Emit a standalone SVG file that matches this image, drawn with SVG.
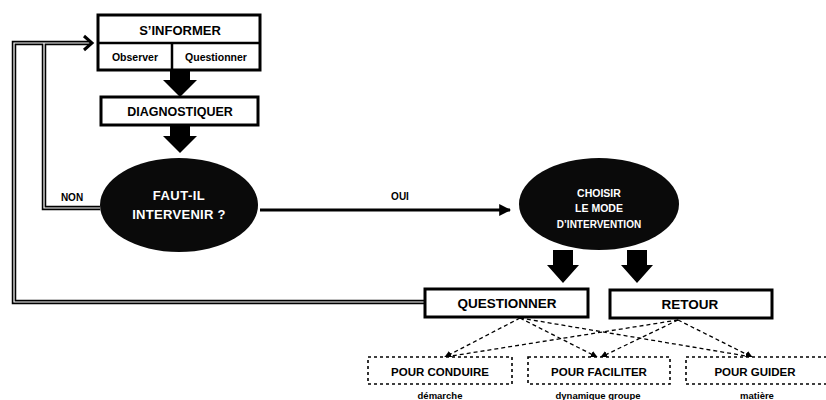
<svg xmlns="http://www.w3.org/2000/svg" xmlns:xlink="http://www.w3.org/1999/xlink" width="826" height="400" viewBox="0 0 826 400">
<style>
.box{fill:#fff;stroke:#000;stroke-width:3}
.dbox{fill:#fff;stroke:#000;stroke-width:1.6;stroke-dasharray:3 3}
.ell{fill:#0a0a0a}
.t{font-family:"Liberation Sans",Arial,sans-serif;font-weight:bold;text-anchor:middle;fill:#000}
.w{fill:#fff}
.fat{fill:#000}
.lineO{fill:none;stroke:#000;stroke-width:4.5}
.lineI{fill:none;stroke:#fff;stroke-width:1.2}
.solid{fill:none;stroke:#000;stroke-width:3}
.dash{fill:none;stroke:#000;stroke-width:1.3;stroke-dasharray:4 3}
</style>
<defs>
<marker id="tri" viewBox="0 0 10 10" refX="9" refY="5" markerWidth="4" markerHeight="4" orient="auto" markerUnits="strokeWidth">
<path d="M0,0 L10,5 L0,10 Z" fill="#000"/>
</marker>
<marker id="small" viewBox="0 0 10 10" refX="9" refY="5" markerWidth="7" markerHeight="7" orient="auto" markerUnits="userSpaceOnUse">
<path d="M0,0 L10,5 L0,10 Z" fill="#000"/>
</marker>
<path id="loop1" d="M425,302 H14 V43 H90"/>
<path id="loop2" d="M100,208 H44 V43"/>
</defs>

<g id="connectors">
<use xlink:href="#loop1" class="lineO"/>
<use xlink:href="#loop2" class="lineO"/>
<use xlink:href="#loop1" class="lineI"/>
<use xlink:href="#loop2" class="lineI"/>
<path d="M84,36 L92,43 L84,50" fill="none" stroke="#000" stroke-width="3"/>
<text class="t" x="72" y="201" font-size="10">NON</text>
<path class="solid" d="M260,210 H510" marker-end="url(#tri)"/>
<text class="t" x="400" y="200" font-size="10">OUI</text>
<path class="fat" d="M170,70 H190 V80 H197 L180,97 L163,80 H170 Z"/>
<path class="fat" d="M170,125 H190 V136 H197 L180,153 L163,136 H170 Z"/>
<path class="fat" d="M553,250 H573 V265 H579 L563,283 L547,265 H553 Z"/>
<path class="fat" d="M627,250 H647 V265 H653 L637,283 L621,265 H627 Z"/>
<path class="dash" d="M520,318 L445,357" marker-end="url(#small)"/>
<path class="dash" d="M520,318 L597,357" marker-end="url(#small)"/>
<path class="dash" d="M520,318 L752,357" marker-end="url(#small)"/>
<path class="dash" d="M678,320 L445,357" marker-end="url(#small)"/>
<path class="dash" d="M678,320 L601,357" marker-end="url(#small)"/>
<path class="dash" d="M678,320 L752,357" marker-end="url(#small)"/>
</g>

<g id="sinformer">
<rect class="box" x="98" y="15" width="162" height="55"/>
<line x1="98" y1="43" x2="260" y2="43" stroke="#000" stroke-width="2.5"/>
<line x1="172" y1="43" x2="172" y2="70" stroke="#000" stroke-width="2.5"/>
<text class="t" x="180" y="35" font-size="13">S’INFORMER</text>
<text class="t" x="135" y="61" font-size="10.5">Observer</text>
<text class="t" x="216" y="61" font-size="10.5">Questionner</text>
</g>

<g id="diagnostiquer">
<rect class="box" x="101" y="97" width="157" height="28"/>
<text class="t" x="180" y="116" font-size="12.5">DIAGNOSTIQUER</text>
</g>

<g id="fautil">
<ellipse class="ell" cx="179" cy="205" rx="79" ry="47"/>
<text class="t w" x="179" y="200" font-size="13" letter-spacing="0.5">FAUT-IL</text>
<text class="t w" x="179" y="219" font-size="13" letter-spacing="0.3">INTERVENIR ?</text>
</g>

<g id="choisir">
<ellipse class="ell" cx="599" cy="204" rx="80" ry="46"/>
<text class="t w" x="599" y="197" font-size="10.5">CHOISIR</text>
<text class="t w" x="599" y="212" font-size="10.5">LE MODE</text>
<text class="t w" x="599" y="228" font-size="10">D’INTERVENTION</text>
</g>

<g id="questionner">
<rect class="box" x="425" y="289" width="163" height="28"/>
<text class="t" x="507" y="308" font-size="13.5">QUESTIONNER</text>
</g>

<g id="retour">
<rect class="box" x="610" y="290" width="162" height="28"/>
<text class="t" x="690" y="309" font-size="13.5">RETOUR</text>
</g>

<g id="conduire">
<rect class="dbox" x="368" y="357" width="144" height="27"/>
<text class="t" x="440" y="375.5" font-size="11.5">POUR CONDUIRE</text>
<text class="t" x="440" y="399" font-size="9.5">démarche</text>
</g>

<g id="faciliter">
<rect class="dbox" x="528" y="357" width="142" height="27"/>
<text class="t" x="598" y="399" font-size="9.5">dynamique groupe</text>
<text class="t" x="599" y="375.5" font-size="11.5">POUR FACILITER</text>
</g>

<g id="guider">
<rect class="dbox" x="686" y="357" width="150" height="27"/>
<text class="t" x="755" y="375.5" font-size="11.5">POUR GUIDER</text>
<text class="t" x="757" y="399" font-size="9.5">matière</text>
</g>
</svg>
